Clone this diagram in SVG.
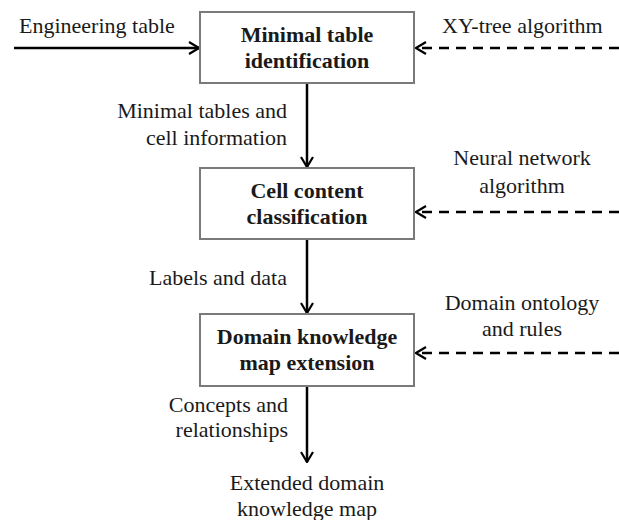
<svg xmlns="http://www.w3.org/2000/svg" width="619" height="520" viewBox="0 0 619 520">
  <style>
    text { font-family: "Liberation Serif", "Times New Roman", serif; font-size: 22px; fill: #1a1a1a; }
    .bold { font-weight: bold; }
    .box { fill: #ffffff; stroke: #7a7a7a; stroke-width: 2; }
    .flow { stroke: #000000; stroke-width: 2.5; fill: none; }
    .dash { stroke: #000000; stroke-width: 2.5; fill: none; stroke-dasharray: 10 7; }
  </style>
  <defs>
    <marker id="chevron" viewBox="0 0 12 14" refX="11" refY="7" markerWidth="12" markerHeight="14" markerUnits="userSpaceOnUse" orient="auto">
      <path d="M1,1 L11,7 L1,13" fill="none" stroke="#000000" stroke-width="2.2"/>
    </marker>
  </defs>
  <rect width="619" height="520" fill="#ffffff"/>

  <g id="connectors">
    <line class="flow" x1="14" y1="48" x2="199" y2="48" marker-end="url(#chevron)"/>
    <line class="dash" x1="619" y1="48" x2="416" y2="48" marker-end="url(#chevron)"/>
    <line class="flow" x1="307" y1="83" x2="307" y2="167" marker-end="url(#chevron)"/>
    <line class="dash" x1="619" y1="212" x2="416" y2="212" marker-end="url(#chevron)"/>
    <line class="flow" x1="307" y1="239" x2="307" y2="313" marker-end="url(#chevron)"/>
    <line class="dash" x1="619" y1="353" x2="416" y2="353" marker-end="url(#chevron)"/>
    <line class="flow" x1="307" y1="386" x2="307" y2="462" marker-end="url(#chevron)"/>
    <text x="19" y="33">Engineering table</text>
    <text x="442" y="33">XY-tree algorithm</text>
    <text x="287" y="118" text-anchor="end">Minimal tables and</text>
    <text x="287" y="145" text-anchor="end">cell information</text>
    <text x="522" y="165" text-anchor="middle">Neural network</text>
    <text x="522" y="193" text-anchor="middle">algorithm</text>
    <text x="287" y="285" text-anchor="end">Labels and data</text>
    <text x="522" y="310" text-anchor="middle">Domain ontology</text>
    <text x="522" y="336" text-anchor="middle">and rules</text>
    <text x="288" y="412" text-anchor="end">Concepts and</text>
    <text x="288" y="437" text-anchor="end">relationships</text>
  </g>

  <g id="minimal-table-identification">
    <rect class="box" x="200" y="12" width="214" height="71"/>
    <text class="bold" x="307" y="42" text-anchor="middle">Minimal table</text>
    <text class="bold" x="307" y="68" text-anchor="middle">identification</text>
  </g>

  <g id="cell-content-classification">
    <rect class="box" x="200" y="168" width="214" height="71"/>
    <text class="bold" x="307" y="198" text-anchor="middle">Cell content</text>
    <text class="bold" x="307" y="224" text-anchor="middle">classification</text>
  </g>

  <g id="domain-knowledge-map-extension">
    <rect class="box" x="200" y="314" width="214" height="72"/>
    <text class="bold" x="307" y="344" text-anchor="middle">Domain knowledge</text>
    <text class="bold" x="307" y="370" text-anchor="middle">map extension</text>
  </g>

  <g id="extended-domain-knowledge-map">
    <text x="307" y="490" text-anchor="middle">Extended domain</text>
    <text x="307" y="516" text-anchor="middle">knowledge map</text>
  </g>
</svg>
